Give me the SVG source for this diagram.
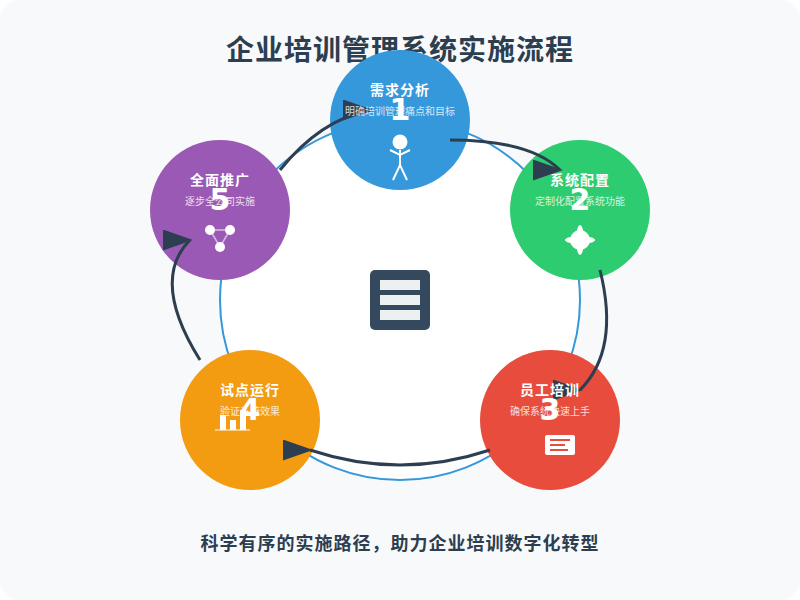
<svg xmlns="http://www.w3.org/2000/svg" width="800" height="600" viewBox="0 0 800 600">
<style>
text{font-family:"DejaVu Sans","Noto Sans CJK SC",sans-serif;text-anchor:middle}
.title{font-size:28px;font-weight:bold;fill:#2c3e50;letter-spacing:1px}
.foot{font-size:18px;font-weight:bold;fill:#2c3e50;letter-spacing:1px}
.name{font-size:14px;font-weight:bold;fill:#fff;letter-spacing:1px}
.desc{font-size:10px;fill:#fff;opacity:.8}
.num{font-size:30px;font-weight:bold;fill:#fff}
.arrow{fill:none;stroke:#2c3e50;stroke-width:3;marker-end:url(#head)}
.ic{fill:#fff}
.icl{fill:none;stroke:#fff;stroke-width:2}
</style>
<defs><marker id="head" markerWidth="10" markerHeight="7" refX="9" refY="3.5"><polygon points="0 0,10 3.5,0 7" fill="#2c3e50"/></marker></defs>
<rect width="800" height="600" rx="20" fill="#f8f9fa"/>
<text class="title" x="400" y="60">企业培训管理系统实施流程</text>
<circle cx="400" cy="300" r="180" fill="#fff" stroke="#3498db" stroke-width="2"/>
<g id="center-icon"><rect x="370" y="270" width="60" height="60" rx="5" fill="#34495e"/><rect x="380" y="280" width="40" height="10" fill="#ecf0f1"/><rect x="380" y="295" width="40" height="10" fill="#ecf0f1"/><rect x="380" y="310" width="40" height="10" fill="#ecf0f1"/></g>
<g id="discs">
<circle id="disc-1" cx="400" cy="120" r="70" fill="#3498db"/>
<circle id="disc-2" cx="580" cy="210" r="70" fill="#2ecc71"/>
<circle id="disc-3" cx="550" cy="420" r="70" fill="#e74c3c"/>
<circle id="disc-4" cx="250" cy="420" r="70" fill="#f39c12"/>
<circle id="disc-5" cx="220" cy="210" r="70" fill="#9b59b6"/>
</g>
<g id="connectors">
<path class="arrow" d="M450 140Q530 140 560 170"/>
<path class="arrow" d="M600 270Q620 350 580 390"/>
<path class="arrow" d="M490 450Q400 480 310 450"/>
<path class="arrow" d="M200 360Q150 280 190 240"/>
<path class="arrow" d="M280 170Q320 120 370 110"/>
</g>
<g id="node-1">
<text class="name" x="400" y="95">需求分析</text><text class="desc" x="400" y="115">明确培训管理痛点和目标</text><text class="num" x="400" y="120">1</text>
<circle class="ic" cx="400" cy="142" r="7.5"/><path class="icl" d="M400 150V165M390 150L400 155L410 150M393 180L400 165L407 180"/>
</g>
<g id="node-2">
<text class="name" x="580" y="185">系统配置</text><text class="desc" x="580" y="205">定制化配置系统功能</text><text class="num" x="580" y="210">2</text>
<circle class="ic" cx="580" cy="240" r="10"/><ellipse class="ic" cx="580" cy="240" rx="15" ry="4"/><ellipse class="ic" cx="580" cy="240" rx="4" ry="15"/>
</g>
<g id="node-3">
<text class="name" x="550" y="395">员工培训</text><text class="desc" x="550" y="415">确保系统快速上手</text><text class="num" x="550" y="420">3</text>
<rect class="ic" x="545" y="435" width="30" height="20" rx="2"/><path d="M550 440H570M550 445H565M550 450H568" fill="none" stroke="#e74c3c" stroke-width="2"/>
</g>
<g id="node-4">
<text class="name" x="250" y="395">试点运行</text><text class="desc" x="250" y="415">验证系统效果</text>
<rect class="ic" x="220" y="415" width="6" height="15"/><rect class="ic" x="230" y="420" width="6" height="10"/><rect class="ic" x="240" y="410" width="6" height="20"/><path d="M215 430H250" stroke="#fff" stroke-width="2" opacity=".5"/>
<text class="num" x="250" y="420">4</text>
</g>
<g id="node-5">
<text class="name" x="220" y="185">全面推广</text><text class="desc" x="220" y="205">逐步全公司实施</text><text class="num" x="220" y="210">5</text>
<path d="M210 230H230L220 247Z" fill="none" stroke="#fff" stroke-width="1.5" opacity=".6"/><circle class="ic" cx="210" cy="230" r="5"/><circle class="ic" cx="230" cy="230" r="5"/><circle class="ic" cx="220" cy="247" r="5"/>
</g>
<text class="foot" x="400" y="550">科学有序的实施路径，助力企业培训数字化转型</text>
</svg>
